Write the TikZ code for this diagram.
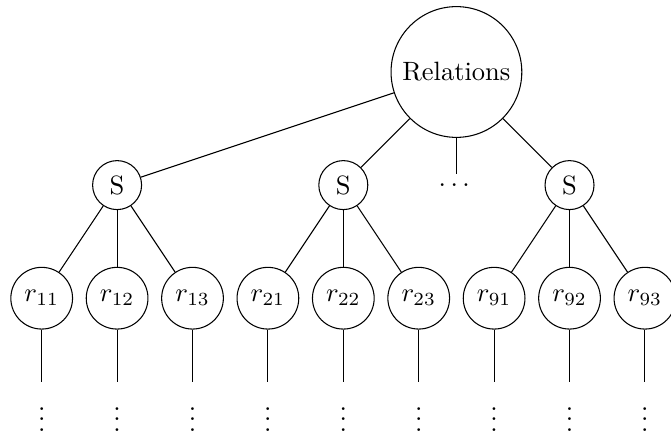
\documentclass[tikz,border=0pt]{standalone}
\newcommand{\threedots}{.\kern1.67pt.\kern1.67pt.\kern1.67pt}
\begin{document}
\begin{tikzpicture}[
  circ/.style={draw, circle},
  link/.style={draw, line width=0.4pt},
]
% page frame: levels are 1.5cm apart, leaves 1cm apart
\useasboundingbox (-0.553,-4.854) rectangle (8.346,0.955);

% root and second level
\node[circ] (rel) at (5.5,0) {Relations};
\node[circ] (s1) at (1,-1.5) {S};
\node[circ] (s2) at (4,-1.5) {S};
\node (gap) at (5.5,-1.5) {\threedots};
\node[circ] (s9) at (7,-1.5) {S};

\foreach \s in {s1,s2,gap,s9}
  \path[link] (rel) -- (\s);

% leaves with their continuation marks
\foreach \g/\x/\p in {1/0/s1, 2/3/s2, 9/6/s9} {
  \foreach \k in {1,2,3} {
    \node[circ] (r\g\k) at ({\x+\k-1},-3) {$r_{\g\k}$};
    \node (v\g\k) at ({\x+\k-1},-4.5) {$\vdots$};
    \path[link] (\p) -- (r\g\k);
    \path[link] (r\g\k) -- (v\g\k);
  }
}
\end{tikzpicture}
\end{document}
